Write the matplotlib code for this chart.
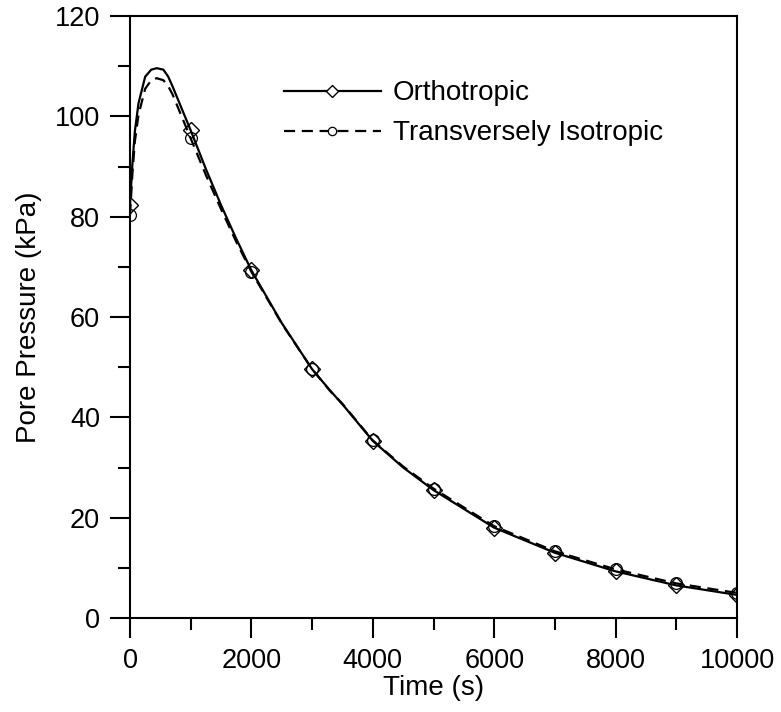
import matplotlib
matplotlib.use("Agg")
import matplotlib.pyplot as plt
from matplotlib.ticker import MultipleLocator

plt.rcParams['font.family'] = ['Liberation Sans', 'DejaVu Sans']

# Curve data
t_curve = [0, 40, 80, 140, 250, 350, 440, 550, 630, 700, 850, 1000, 1250, 1500,
           1750, 2000, 2500, 3000, 3300, 3500, 4000, 4500, 5000, 6000, 7000,
           8000, 9000, 10000]
ortho_curve = [82.4, 90.6, 97.0, 102.6, 107.9, 109.3, 109.6, 109.3, 107.9, 106.0,
               101.6, 97.2, 89.5, 82.3, 75.6, 69.3, 58.8, 49.6, 45.3, 42.6, 35.3,
               30.0, 25.5, 18.0, 13.0, 9.3, 6.5, 4.6]
trans_curve = [80.3, 88.6, 95.0, 100.3, 105.5, 107.2, 107.6, 107.2, 106.0, 104.4,
               100.0, 95.6, 88.3, 81.5, 75.0, 69.0, 58.7, 49.6, 45.2, 42.7, 35.4,
               30.2, 25.8, 18.3, 13.3, 9.7, 6.9, 5.0]

# Marker data
t_mark = [0, 1000, 2000, 3000, 4000, 5000, 6000, 7000, 8000, 9000, 10000]
ortho_mark = [82.4, 97.2, 69.3, 49.6, 35.3, 25.5, 18.0, 13.0, 9.3, 6.5, 4.6]
trans_mark = [80.3, 95.6, 69.0, 49.6, 35.4, 25.8, 18.3, 13.3, 9.7, 6.9, 5.0]

W, H = 781, 712
fig = plt.figure(figsize=(W / 100, H / 100), dpi=100)
ax = fig.add_axes([130 / W, (H - 618) / H, 607 / W, 602 / H])

lw = 1.6
ax.plot(t_curve, ortho_curve, color='black', lw=lw, ls='-')
ax.plot(t_curve, trans_curve, color='black', lw=lw, ls=(0, (5, 3)))
ax.plot(t_mark, ortho_mark, ls='none', marker='D', ms=8.5, mfc='none',
        mec='black', mew=1.0)
ax.plot(t_mark, trans_mark, ls='none', marker='o', ms=8.5, mfc='none',
        mec='black', mew=0.9)

# legend proxies
h1, = ax.plot([], [], color='black', lw=lw, ls='-', marker='D', ms=6,
              mfc='white', mec='black', mew=1.0)
h2, = ax.plot([], [], color='black', lw=lw, ls=(0, (5, 3)), marker='o', ms=6,
              mfc='white', mec='black', mew=0.9)
leg = ax.legend([h1, h2], ['Orthotropic', 'Transversely Isotropic'],
                loc='upper left', bbox_to_anchor=(0.253, 0.893), frameon=False,
                fontsize=20, handlelength=3.5, handletextpad=0.43,
                labelspacing=0.5, borderpad=0, borderaxespad=0)

ax.set_xlim(0, 10000)
ax.set_ylim(0, 120)
ax.xaxis.set_major_locator(MultipleLocator(2000))
ax.xaxis.set_minor_locator(MultipleLocator(1000))
ax.yaxis.set_major_locator(MultipleLocator(20))
ax.yaxis.set_minor_locator(MultipleLocator(10))
ax.tick_params(which='both', direction='out', width=1.5, labelsize=19.5)
ax.tick_params(which='major', length=14.5)
ax.tick_params(which='minor', length=8.5)
ax.tick_params(axis='x', which='major', pad=7)
ax.tick_params(axis='y', which='major', pad=7)
for s in ax.spines.values():
    s.set_linewidth(1.5)

ax.set_xlabel('Time (s)', fontsize=20, labelpad=1)
ax.set_ylabel('Pore Pressure (kPa)', fontsize=20, labelpad=9)

fig.savefig('out.png', dpi=100)
